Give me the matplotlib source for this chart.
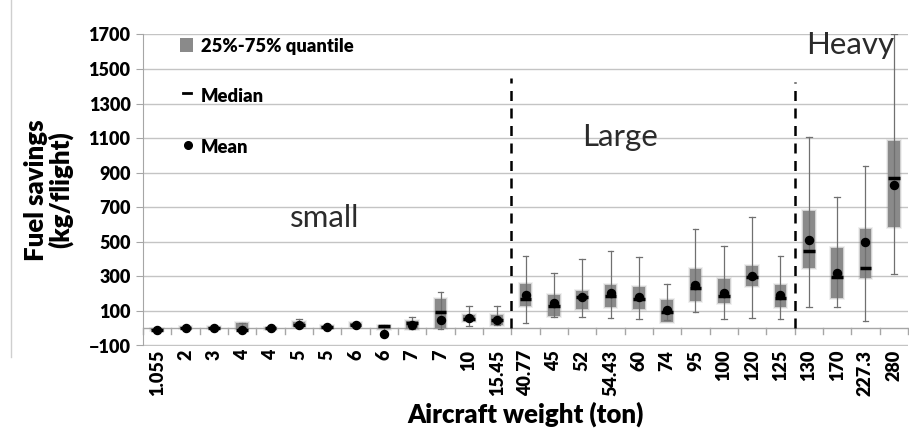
import numpy as np
import matplotlib
matplotlib.use("Agg")
import matplotlib.pyplot as plt
from matplotlib.patches import Rectangle
from matplotlib.lines import Line2D

plt.rcParams['font.family'] = ['Lato', 'DejaVu Sans']

# Aircraft weight classes (ton) and fuel-savings statistics (kg/flight)
weights = ["1.055", "2", "3", "4", "4", "5", "5", "6", "6", "7", "7", "10", "15.45",
           "40.77", "45", "52", "54.43", "60", "74", "95", "100", "120", "125",
           "130", "170", "227.3", "280"]
low    = [-15, -2, 0, -15, -3, 5, 0, 10, -45, -5, -5, 15, 20,
          30, 63, 67, 59, 55, 50, 92, 54, 57, 54,
          121, 121, 42, 314]
q25    = [-12, 0, 2, -5, -3, 10, 0, 10, -5, -4, 0, 40, 21,
          130, 69, 113, 125, 113, 34, 156, 146, 246, 123,
          348, 175, 291, 585]
median = [-8, 2, 4, -8, 0, 20, 6, 19, 10, 30, 95, 55, 50,
          170, 131, 181, 188, 169, 92, 233, 188, 296, 175,
          445, 294, 349, 870]
q75    = [-3, 5, 6, 30, 4, 35, 12, 28, 15, 40, 171, 75, 77,
          255, 190, 217, 250, 240, 165, 343, 287, 362, 250,
          681, 466, 577, 1083]
high   = [-2, 6, 8, 30, 4, 55, 12, 30, 18, 63, 207, 127, 129,
          418, 317, 398, 447, 410, 254, 576, 476, 641, 418,
          1109, 759, 940, 1700]
mean   = [-8, 2, 4, -12, 0, 19, 6, 19, -33, 19, 50, 60, 50,
          192, 146, 181, 204, 179, 107, 252, 204, 304, 194,
          512, 320, 497, 828]

class_names = ["small", "Large", "Heavy"]
class_bounds = [12.5, 22.5]          # dashed separators between classes
class_tops = [1450, 1425]

W, H = 909, 444
fig = plt.figure(figsize=(W / 100, H / 100), dpi=100)
ax = fig.add_axes([143 / W, 98.5 / H, (908 - 143) / W, (409.5 - 98.5) / H])

n = len(weights)
x = np.arange(n)
ax.set_xlim(-0.5, n - 0.5)
ax.set_ylim(-100, 1700)

px_x = n / (908 - 143)          # data units per pixel, horizontally
px_y = 1800 / 311.0             # data units per pixel, vertically

box_w = 0.42
cap_w = 0.21
box_col = "#8a8a8a"
bold = "heavy"

for i in x:
    # soft-edged quantile box
    for grow, a in [(2.0, 0.12), (1.0, 0.3)]:
        ax.add_patch(Rectangle((i - box_w / 2 - grow * px_x, q25[i] - grow * px_y),
                               box_w + 2 * grow * px_x,
                               q75[i] - q25[i] + 2 * grow * px_y,
                               facecolor=box_col, edgecolor="none", alpha=a, zorder=2))
    ax.add_patch(Rectangle((i - box_w / 2, q25[i]), box_w, q75[i] - q25[i],
                           facecolor=box_col, edgecolor="none", zorder=3))
    # whisker with caps
    ax.plot([i, i], [low[i], high[i]], color="#707070", lw=0.9, zorder=4)
    ax.plot([i - cap_w / 2, i + cap_w / 2], [high[i]] * 2, color="#707070", lw=0.9, zorder=4)
    ax.plot([i - cap_w / 2, i + cap_w / 2], [low[i]] * 2, color="#707070", lw=0.9, zorder=4)
    # median
    ax.plot([i - box_w / 2, i + box_w / 2], [median[i]] * 2, color="black", lw=2.5,
            solid_capstyle="butt", zorder=5)

ax.plot(x, mean, "o", color="black", ms=5.8, zorder=6, linestyle="none")

# class separators
for b, t in zip(class_bounds, class_tops):
    ax.plot([b, b], [0, t], color="black", lw=1.8, dashes=(4, 3), zorder=6)

# axes styling
ax.set_yticks(np.arange(-100, 1701, 200))
ax.yaxis.grid(True, color="#c4c4c4", lw=1)
ax.set_axisbelow(True)
for s in ["top", "right", "bottom"]:
    ax.spines[s].set_visible(False)
ax.spines["left"].set_color("#a6a6a6")
ax.tick_params(axis="y", length=5, color="#a6a6a6", pad=4, labelsize=13)
for lab in ax.get_yticklabels():
    lab.set_fontweight(bold)

ax.axhline(0, color="#a6a6a6", lw=1, zorder=1)
for k in range(n + 1):
    ax.plot([k - 0.5, k - 0.5], [0, -5.5 * px_y], color="#a6a6a6", lw=1,
            clip_on=False, zorder=1)

ax.set_xticks(x)
ax.set_xticklabels(weights, rotation=90, fontweight=bold, fontsize=13)
ax.tick_params(axis="x", length=0, pad=3)

ax.set_ylabel("Fuel savings\n(kg/flight)", fontsize=18.5, fontweight=bold,
              linespacing=1.0, labelpad=11)
ax.set_xlabel("Aircraft weight (ton)", fontsize=18.5, fontweight=bold, labelpad=4)


def fx(px):
    return px / W


def fy(py):
    return 1 - py / H


# class names
for name, (cx, cy) in zip(class_names, [(325, 218), (620, 137), (850, 45)]):
    fig.text(fx(cx), fy(cy), name, fontsize=22.5, color="#2b2b2b",
             ha="center", va="center")

# legend
fig.add_artist(Rectangle((fx(180), fy(52)), 13 / W, 14 / H, transform=fig.transFigure,
                         facecolor=box_col, edgecolor="none"))
fig.add_artist(Line2D([fx(183), fx(191)], [fy(93)] * 2, color="black", lw=2,
                      transform=fig.transFigure))
fig.add_artist(Line2D([fx(188)], [fy(145)], marker="o", ms=5.5, color="black",
                      transform=fig.transFigure))
for label, yy in [("25%-75% quantile", 46), ("Median", 97), ("Mean", 147)]:
    fig.text(fx(201), fy(yy), label, fontsize=13.2, fontweight=bold,
             ha="left", va="center")

# outer frame edge
fig.add_artist(Line2D([fx(11), fx(11)], [fy(0), fy(357)], color="#cfcfcf", lw=1,
                      transform=fig.transFigure))

fig.savefig("out.png", dpi=100)
